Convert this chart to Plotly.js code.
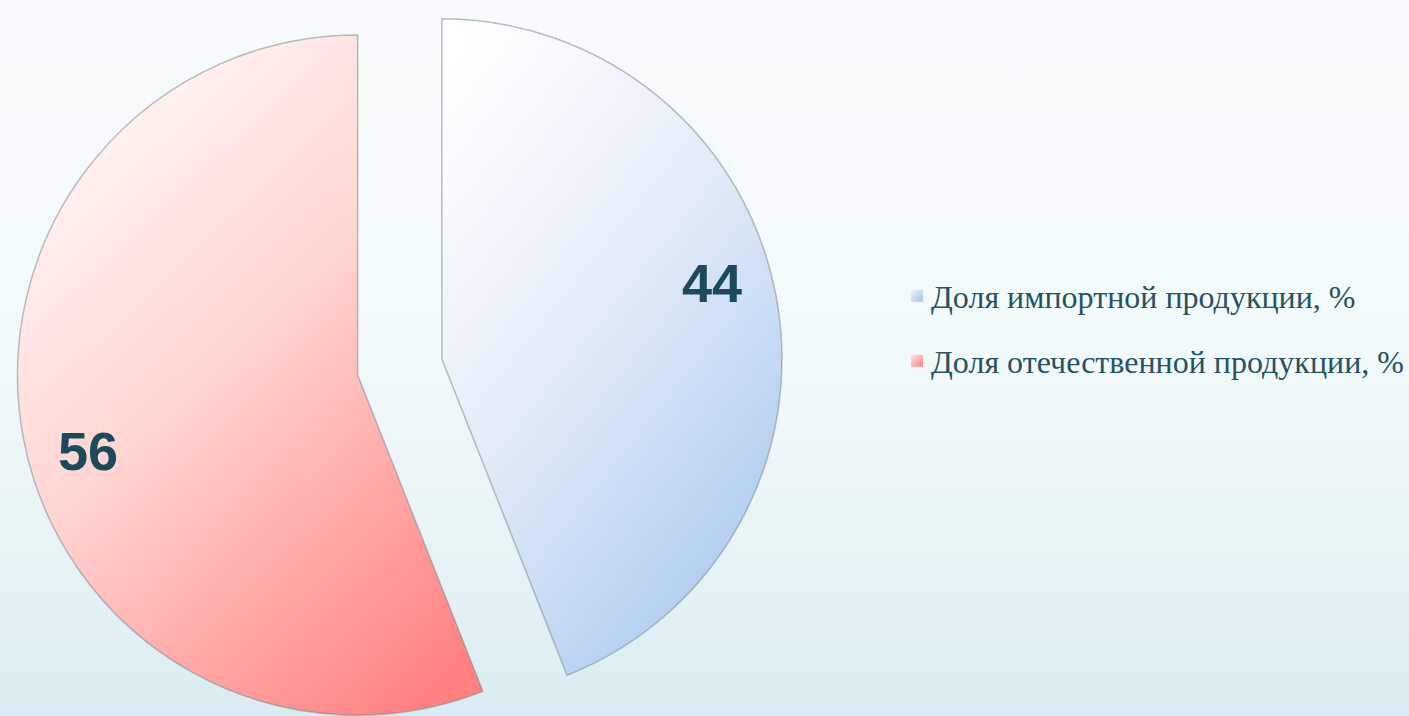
<!DOCTYPE html>
<html>
<head>
<meta charset="utf-8">
<script src="https://cdn.plot.ly/plotly-3.0.1.min.js"></script>
<style>
  html, body { margin: 0; padding: 0; width: 1409px; height: 716px; overflow: hidden; }
  body { background: linear-gradient(180deg, #f6fbfc 0%, #f3fafb 45%, #e6f2f5 80%, #d9ecf1 100%); position: relative; }
  #chart { position: absolute; left: 0; top: -16px; width: 1409px; height: 766px; }
</style>
</head>
<body>
<div id="chart"></div>
<script>
const categories = ["Доля импортной продукции, %", "Доля отечественной продукции, %"];
const values = [44, 56];
const sliceColors = ["#d3e2f5", "#ffc2bd"];

const W = 1409, H = 766;
const pullFrac = 0.126;
const domX = [0, 0.5678], domY = [0, 1];
const legendRowStep = 65;

// label placement derived from the data (same geometry Plotly uses for the pie)
const total = values.reduce(function (a, b) { return a + b; }, 0);
const cx = W * (domX[0] + domX[1]) / 2;
const cy = H * (1 - (domY[0] + domY[1]) / 2);
const R = Math.min(W * (domX[1] - domX[0]), H * (domY[1] - domY[0])) / 2 / (1 + pullFrac);
const labelRadius = 0.825, labelTurn = -5 * Math.PI / 180;
let cum = 0;
const annotations = values.map(function (v) {
  const mid = (cum + v / 2) / total * 2 * Math.PI;
  cum += v;
  const vx = cx + pullFrac * R * Math.sin(mid);
  const vy = cy - pullFrac * R * Math.cos(mid);
  const a = mid + labelTurn;
  const px = vx + labelRadius * R * Math.sin(a);
  const py = vy - labelRadius * R * Math.cos(a);
  return {
    xref: "paper", yref: "paper", x: px / W, y: 1 - py / H,
    xanchor: "center", yanchor: "middle", showarrow: false,
    text: String(v),
    font: { family: "Liberation Sans, Arial, sans-serif", size: 54, color: "#1b4a5c", weight: "bold" }
  };
});

const trace = {
  type: "pie",
  labels: categories,
  values: values,
  sort: false,
  direction: "clockwise",
  rotation: 0,
  pull: [pullFrac, pullFrac],
  domain: { x: domX, y: domY },
  marker: { colors: sliceColors, line: { color: "rgba(120,130,140,0.5)", width: 1.5 } },
  textinfo: "none",
  hoverinfo: "none"
};

const layout = {
  width: W,
  height: H,
  margin: { l: 0, r: 0, t: 0, b: 0 },
  paper_bgcolor: "rgba(0,0,0,0)",
  plot_bgcolor: "rgba(0,0,0,0)",
  showlegend: true,
  annotations: annotations,
  legend: {
    x: 0.633, xanchor: "left",
    y: 0.550, yanchor: "middle",
    font: { family: "Liberation Serif, Times New Roman, serif", size: 32, color: "#25535f" },
    bgcolor: "rgba(0,0,0,0)"
  }
};

function parseTranslate(el) {
  const m = /translate\(\s*([-\d.]+)(?:[ ,]+([-\d.]+))?\s*\)/.exec(el.getAttribute("transform") || "");
  return m ? [parseFloat(m[1]), m[2] !== undefined ? parseFloat(m[2]) : 0] : [0, 0];
}

Plotly.newPlot("chart", [trace], layout, { displayModeBar: false, staticPlot: true }).then(function (gd) {
  const svg = gd.querySelector("svg.main-svg");
  const ns = "http://www.w3.org/2000/svg";
  let defs = svg.querySelector("defs");
  if (!defs) { defs = document.createElementNS(ns, "defs"); svg.insertBefore(defs, svg.firstChild); }
  function grad(id, stops, x1, y1, x2, y2) {
    const g = document.createElementNS(ns, "linearGradient");
    g.setAttribute("id", id);
    g.setAttribute("x1", x1); g.setAttribute("y1", y1);
    g.setAttribute("x2", x2); g.setAttribute("y2", y2);
    stops.forEach(function (s) {
      const st = document.createElementNS(ns, "stop");
      st.setAttribute("offset", s[0]);
      st.setAttribute("stop-color", s[1]);
      g.appendChild(st);
    });
    defs.appendChild(g);
  }
  grad("gBlue", [["0", "#ffffff"], ["0.45", "#e6edf8"], ["1", "#a9c9ef"]], "0.1", "0", "0.75", "1");
  grad("gRed", [["0", "#fffaf9"], ["0.45", "#ffd4d1"], ["1", "#ff8080"]], "0.2", "0", "0.85", "1");
  grad("gBlueL", [["0", "#eef4fc"], ["1", "#a4c4ee"]], "0", "0", "1", "1");
  grad("gRedL", [["0", "#ffe6e6"], ["1", "#ff8080"]], "0", "0", "1", "1");
  const ids = ["gBlue", "gRed"];
  const lids = ["gBlueL", "gRedL"];
  gd.querySelectorAll(".slice path.surface").forEach(function (p, i) {
    p.style.fill = "url(#" + ids[i] + ")";
  });
  gd.querySelectorAll(".legendpoints path").forEach(function (p, i) {
    p.style.fill = "url(#" + lids[i] + ")";
    p.style.stroke = "none";
    const t = parseTranslate(p);
    p.setAttribute("transform", "translate(" + (t[0] + 6) + "," + t[1] + ")");
  });
  // spread the legend rows to the reference row spacing
  const sb = gd.querySelector(".legend .scrollbox");
  if (sb) sb.removeAttribute("clip-path");
  const items = Array.from(gd.querySelectorAll(".legend .traces"));
  const ys = items.map(parseTranslate);
  if (items.length > 1) {
    const meanY = ys.reduce(function (a, b) { return a + b[1]; }, 0) / ys.length;
    items.forEach(function (el, i) {
      const ny = meanY + (i - (items.length - 1) / 2) * legendRowStep;
      el.setAttribute("transform", "translate(" + ys[i][0] + "," + ny + ")");
    });
  }
});
</script>
</body>
</html>
